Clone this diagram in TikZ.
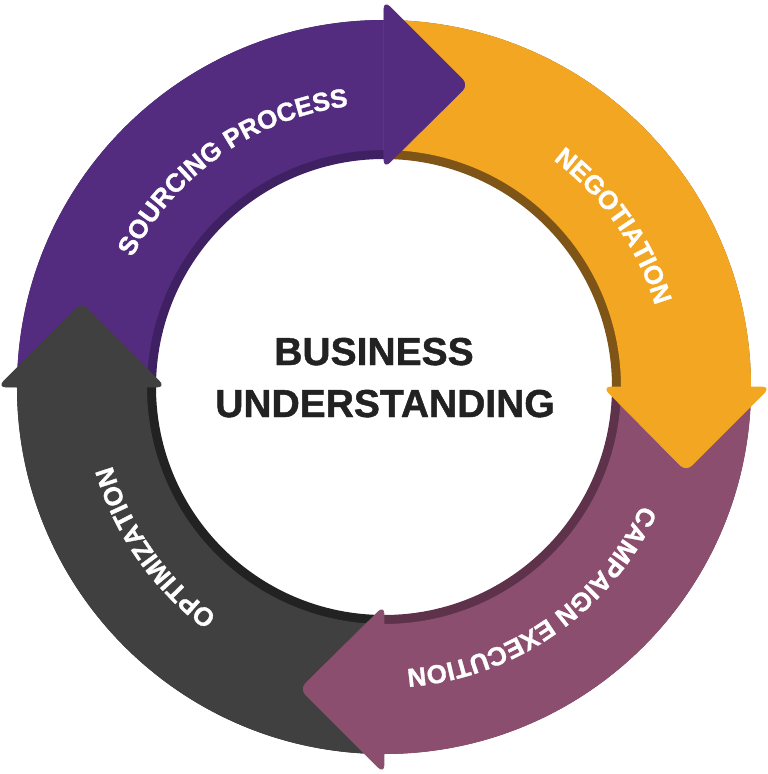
\documentclass[tikz,border=0pt]{standalone}
\usepackage{fontspec}
\setmainfont{Liberation Sans}
\newfontfamily\heavyfont{Liberation Sans}[UprightFont=*-Bold,FakeBold=1.2]
\usetikzlibrary{decorations.text}

\definecolor{srcpurple}{HTML}{532C7F}
\definecolor{srcshade}{HTML}{3F2163}
\definecolor{negorange}{HTML}{F3A621}
\definecolor{negshade}{HTML}{7E5516}
\definecolor{cmpplum}{HTML}{8B4E6F}
\definecolor{cmpshade}{HTML}{5E324A}
\definecolor{optgray}{HTML}{404040}
\definecolor{optshade}{HTML}{222222}
\definecolor{titlegray}{HTML}{222222}

\newcommand{\ringfont}{\heavyfont\fontsize{26}{26}\selectfont}

\tikzset{
  head/.style={fill=#1,draw=#1,line width=0.8pt,rounded corners=8pt},
  ringlabel/.style={decorate,decoration={text along path,text align=center,
      text={|\ringfont\color{white}|#1}}},
  title/.style={font=\heavyfont\fontsize{39}{52}\selectfont,text=titlegray}
}

\begin{document}
\begin{tikzpicture}[x=1pt,y=1pt]
  \useasboundingbox (-384,-387) rectangle (384,387);
  % bands, inner edge darker
  \foreach \a/\c/\s in {90/srcpurple/srcshade,0/negorange/negshade,-90/cmpplum/cmpshade,180/optgray/optshade}{
    \fill[\s] (\a+90:367) arc[start angle=\a+90,end angle=\a,radius=367] -- (\a:228) arc[start angle=\a,end angle=\a+90,radius=228] -- cycle;
    \fill[\c] (\a+90:367) arc[start angle=\a+90,end angle=\a,radius=367] -- (\a:237) arc[start angle=\a,end angle=\a+90,radius=237] -- cycle;
  }
  % arrow heads
  \foreach \a/\c in {90/srcpurple,0/negorange,-90/cmpplum,180/optgray}
    \path[head=\c,rotate=\a-90] (0,219) -- (0,386) -- (84,302) -- cycle;
  % labels
  \path[ringlabel=SOURCING PROCESS] (165:283) arc[start angle=165,end angle=85,radius=283];
  \path[ringlabel=NEGOTIATION] (75:283) arc[start angle=75,end angle=-5,radius=283];
  \path[ringlabel=CAMPAIGN EXECUTION] (-15:283) arc[start angle=-15,end angle=-95,radius=283];
  \path[ringlabel=OPTIMIZATION] (255:283) arc[start angle=255,end angle=175,radius=283];
  \node[title,anchor=base] (business) at (-10,22) {BUSINESS};
  \node[title,anchor=base] (understanding) at (1,-30) {UNDERSTANDING};
\end{tikzpicture}
\end{document}
